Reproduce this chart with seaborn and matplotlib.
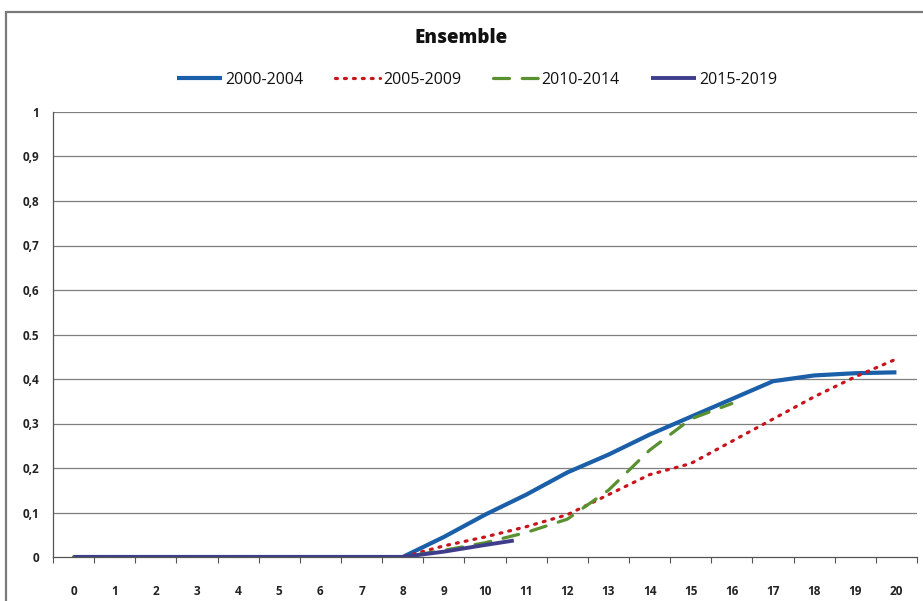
import numpy as np
import pandas as pd
import matplotlib
matplotlib.use("Agg")
import matplotlib.pyplot as plt
import seaborn as sns
from matplotlib.patches import Rectangle
from matplotlib.ticker import FixedLocator

# Values
x_labels = list(range(21))
x_main = list(range(21))
s_2000_2004 = [0, 0, 0, 0, 0, 0, 0, 0, 0, 0.045, 0.095, 0.14, 0.19, 0.23, 0.275,
               0.315, 0.355, 0.395, 0.408, 0.413, 0.415]
s_2005_2009 = [0, 0, 0, 0, 0, 0, 0, 0, 0, 0.025, 0.045, 0.068, 0.095, 0.14, 0.185,
               0.21, 0.26, 0.31, 0.36, 0.405, 0.445]
x_2010_2014 = list(range(17))
s_2010_2014 = [0, 0, 0, 0, 0, 0, 0, 0, 0, 0.015, 0.032, 0.055, 0.085, 0.15, 0.24,
               0.31, 0.345]
x_2015_2019 = [0, 1, 2, 3, 4, 5, 6, 7, 8, 9, 10, 10.7]
s_2015_2019 = [0, 0, 0, 0, 0, 0, 0, 0, 0, 0.012, 0.027, 0.037]

y_ticks = [0, 0.1, 0.2, 0.3, 0.4, 0.5, 0.6, 0.7, 0.8, 0.9, 1]
y_labels = ["0", "0,1", "0,2", "0,3", "0,4", "0.5", "0,6", "0,7", "0,8", "0,9", "1"]

series = [
    ("2000-2004", x_main, s_2000_2004, "#1b5fa8", "-", 3.0),
    ("2005-2009", x_main, s_2005_2009, "#c8141c", (0, (0.6, 2.2)), 2.3),
    ("2010-2014", x_2010_2014, s_2010_2014, "#5a9130", (0, (5, 4)), 2.3),
    ("2015-2019", x_2015_2019, s_2015_2019, "#3d3d8c", "-", 2.8),
]

sns.set_theme(style="white")
plt.rcParams["font.family"] = ["Open Sans", "DejaVu Sans"]

fig = plt.figure(figsize=(9.23, 6.01), dpi=100)
ax = fig.add_axes([53 / 923, 44 / 601, 864 / 923, 445 / 601])

# outer chart frame
fig.patches.append(Rectangle((6 / 923, -0.05), 1.0, (601 - 12) / 601 + 0.05,
                             transform=fig.transFigure, fill=False,
                             edgecolor="#7a7a7a", linewidth=1.6))

for y in y_ticks[1:]:
    ax.axhline(y, color="#7f7f7f", linewidth=0.9, zorder=0)

for name, xs, ys, color, ls, lw in series:
    df = pd.DataFrame({"x": xs, "y": ys})
    sns.lineplot(data=df, x="x", y="y", ax=ax, color=color, linewidth=lw,
                 linestyle=ls, label=name, dash_capstyle="round",
                 solid_capstyle="butt")

ax.set_xlim(-0.5, 20.5)
ax.set_ylim(0, 1)
ax.set_xticks(x_labels)
ax.set_xticklabels([str(v) for v in x_labels], fontsize=8.5, fontweight="bold", color="#222222")
ax.xaxis.set_minor_locator(FixedLocator(np.arange(-0.5, 21, 1)))
ax.tick_params(axis="x", which="major", length=0, pad=20)
ax.tick_params(axis="x", which="minor", length=4, color="#555555", width=0.8, direction="out", bottom=True)
ax.set_yticks(y_ticks)
ax.set_yticklabels(y_labels, fontsize=8.5, fontweight="bold", color="#222222")
ax.tick_params(axis="y", length=0, pad=10)
ax.set_xlabel("")
ax.set_ylabel("")

for side in ["top", "right"]:
    ax.spines[side].set_visible(False)
for side in ["left", "bottom"]:
    ax.spines[side].set_color("#555555")
    ax.spines[side].set_linewidth(0.9)

fig.text(0.5, 1 - 38 / 601, "Ensemble", ha="center", va="center",
         fontsize=13.5, fontweight="heavy", color="#111111")

leg = ax.legend(loc="center", bbox_to_anchor=(477 / 923, 1 - 80 / 601),
                bbox_transform=fig.transFigure, ncol=4, frameon=False,
                fontsize=11.5, handlelength=2.8, handletextpad=0.2,
                columnspacing=2.0)
for t in leg.get_texts():
    t.set_color("#111111")

fig.savefig("out.png", dpi=100, facecolor="white")
